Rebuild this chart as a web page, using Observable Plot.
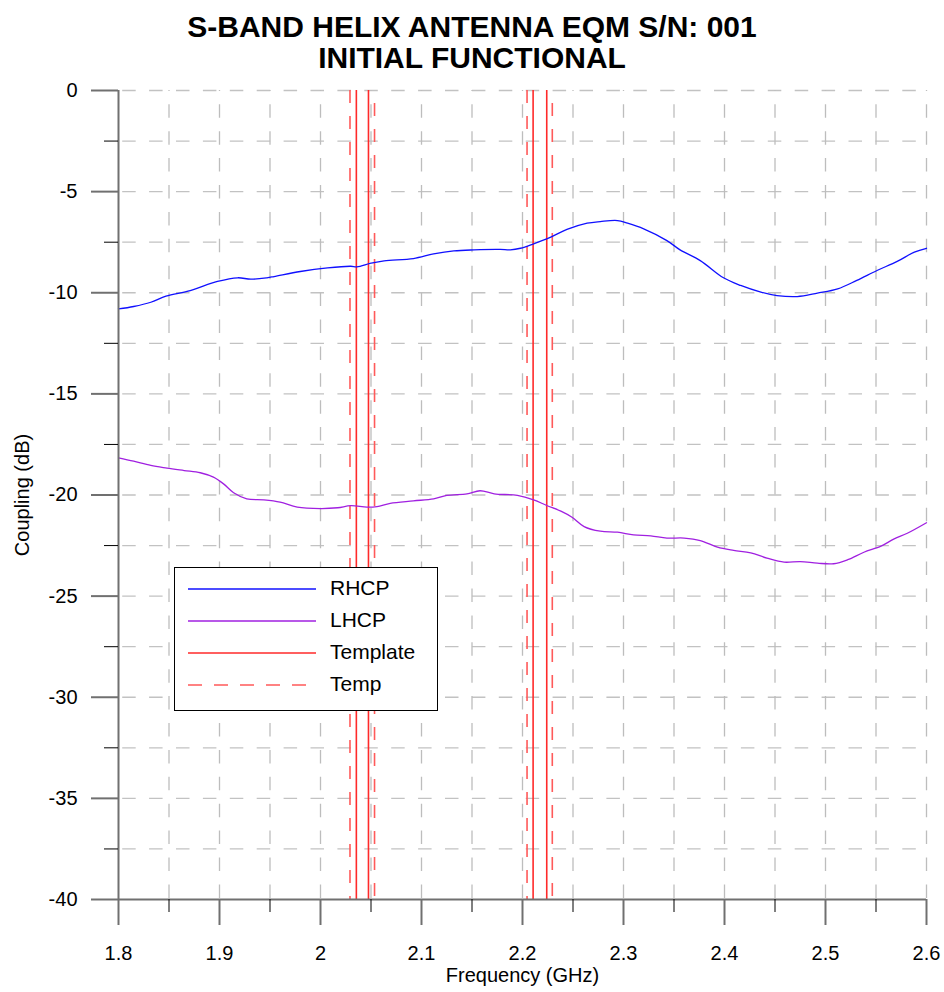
<!DOCTYPE html>
<html>
<head>
<meta charset="utf-8">
<script src="https://cdn.jsdelivr.net/npm/d3@7"></script>
<script src="https://cdn.jsdelivr.net/npm/@observablehq/plot@0.6"></script>
<style>
  html, body { margin: 0; padding: 0; background: #fff; }
  #wrap { position: relative; width: 944px; height: 992px; font-family: "Liberation Sans", Arial, sans-serif; }
  #title { position: absolute; left: 0; top: 11px; width: 944px; text-align: center; font-weight: bold; font-size: 30px; line-height: 31px; color: #000; }
  #chart { position: absolute; left: 0; top: 0; }
  #legend { position: absolute; left: 174px; top: 567px; width: 262px; height: 142px; border: 1px solid #000; background: #fff; }
  .row { position: absolute; left: 0; height: 32px; width: 262px; }
  .row svg { position: absolute; left: 13px; top: 0; }
  .row span { position: absolute; left: 155px; top: 3px; font-size: 21px; line-height: 24px; color: #000; }
</style>
</head>
<body>
<div id="wrap">
  <div id="chart"></div>
  <div id="title">S-BAND HELIX ANTENNA EQM S/N: 001<br>INITIAL FUNCTIONAL</div>
  <div id="legend"></div>
</div>
<script>
// ---- data ----
const rhcpFreq = [1.800,1.815,1.832,1.847,1.871,1.898,1.918,1.931,1.947,1.954,1.980,2.007,2.030,2.036,2.050,2.063,2.092,2.112,2.132,2.152,2.178,2.188,2.198,2.211,2.228,2.244,2.264,2.277,2.294,2.304,2.320,2.343,2.356,2.376,2.399,2.416,2.436,2.452,2.472,2.492,2.512,2.531,2.551,2.571,2.588,2.600];
const rhcpDb   = [-10.80,-10.68,-10.47,-10.17,-9.89,-9.44,-9.26,-9.33,-9.26,-9.20,-8.95,-8.77,-8.69,-8.72,-8.54,-8.42,-8.31,-8.08,-7.93,-7.88,-7.86,-7.88,-7.80,-7.58,-7.25,-6.87,-6.56,-6.48,-6.43,-6.56,-6.84,-7.42,-7.88,-8.41,-9.26,-9.64,-9.97,-10.14,-10.19,-10.02,-9.81,-9.39,-8.90,-8.45,-7.99,-7.80];

const lhcpFreq = [1.800,1.815,1.832,1.848,1.865,1.881,1.894,1.904,1.914,1.927,1.944,1.960,1.977,2.000,2.017,2.030,2.046,2.056,2.069,2.092,2.112,2.125,2.145,2.158,2.172,2.195,2.211,2.224,2.238,2.249,2.261,2.277,2.294,2.310,2.327,2.343,2.360,2.376,2.393,2.409,2.426,2.442,2.459,2.475,2.492,2.508,2.522,2.538,2.555,2.568,2.581,2.600];
const lhcpDb   = [-18.16,-18.33,-18.54,-18.67,-18.79,-18.90,-19.12,-19.45,-19.89,-20.19,-20.24,-20.35,-20.60,-20.67,-20.63,-20.53,-20.60,-20.57,-20.41,-20.29,-20.19,-20.02,-19.94,-19.79,-19.94,-20.02,-20.24,-20.52,-20.80,-21.10,-21.56,-21.79,-21.84,-21.97,-22.02,-22.13,-22.13,-22.25,-22.58,-22.74,-22.86,-23.12,-23.32,-23.29,-23.37,-23.40,-23.20,-22.83,-22.53,-22.17,-21.89,-21.37];

const templateFreq = [2.0355, 2.0475, 2.2105, 2.2240];
const tempFreq     = [2.0292, 2.0535, 2.2045, 2.2295];

const xMajor = [1.8, 1.9, 2.0, 2.1, 2.2, 2.3, 2.4, 2.5, 2.6];
const xMinor = [1.85, 1.95, 2.05, 2.15, 2.25, 2.35, 2.45, 2.55];
const yMajor = [-40, -35, -30, -25, -20, -15, -10, -5, 0];
const yMinor = [-37.5, -32.5, -27.5, -22.5, -17.5, -12.5, -7.5, -2.5];

const seriesNames  = ["RHCP", "LHCP", "Template", "Temp"];
const seriesColors = ["#1010ff", "#a020e0", "#ff2a2a", "#ff5a5a"];

// ---- build ----
const rhcp = rhcpFreq.map((f, i) => ({f, db: rhcpDb[i]}));
const lhcp = lhcpFreq.map((f, i) => ({f, db: lhcpDb[i]}));
const tempLow = tempFreq.filter((d, i) => i % 2 === 0);
const tempHigh = tempFreq.filter((d, i) => i % 2 === 1);
const xGrid = [...xMajor, ...xMinor].sort((a, b) => a - b).filter(d => d !== xMajor[0]);
const yGrid = [...yMajor, ...yMinor].sort((a, b) => a - b).filter(d => d !== yMajor[0]);

const chart = Plot.plot({
  width: 944,
  height: 992,
  marginTop: 90,
  marginBottom: 93,
  marginLeft: 118,
  marginRight: 18,
  style: {fontFamily: "'Liberation Sans', Arial, sans-serif", fontSize: "20px", background: "transparent", overflow: "visible", color: "#000"},
  x: {domain: [xMajor[0], xMajor[xMajor.length - 1]]},
  y: {domain: [yMajor[0], yMajor[yMajor.length - 1]]},
  marks: [
    Plot.gridY(yGrid, {stroke: "#c2c2c2", strokeOpacity: 1, strokeWidth: 1.3, strokeDasharray: "13.5,13.4", strokeDashoffset: 22.7}),
    Plot.gridX(xGrid, {stroke: "#bdbdbd", strokeOpacity: 1, strokeWidth: 1.3, strokeDasharray: "13.5,13.4", strokeDashoffset: 12.6}),
    Plot.ruleX(templateFreq, {stroke: seriesColors[2], strokeWidth: 1.6}),
    Plot.ruleX(tempLow, {stroke: seriesColors[3], strokeWidth: 1.6, strokeDasharray: "13,13"}),
    Plot.ruleX(tempHigh, {stroke: seriesColors[3], strokeWidth: 1.6, strokeDasharray: "13,13", strokeDashoffset: 13}),
    Plot.line(rhcp, {x: "f", y: "db", stroke: seriesColors[0], strokeWidth: 1.3, curve: "catmull-rom"}),
    Plot.line(lhcp, {x: "f", y: "db", stroke: seriesColors[1], strokeWidth: 1.3, curve: "catmull-rom"}),
    Plot.ruleX([xMajor[0]], {stroke: "#707070", strokeWidth: 2}),
    Plot.ruleY([yMajor[0]], {stroke: "#707070", strokeWidth: 2}),
    Plot.axisX(xMinor, {tickSize: 13, stroke: "#000", strokeWidth: 1, tickFormat: () => "", label: null}),
    Plot.axisY(yMinor, {tickSize: 14, stroke: "#000", strokeWidth: 1, tickFormat: () => "", label: null}),
    Plot.axisX(xMajor, {tickSize: 26, tickPadding: 20, stroke: "#707070", strokeWidth: 2, fill: "#000", fontSize: 20,
      tickFormat: d => String(d), label: "Frequency (GHz)", labelAnchor: "center", labelOffset: 82, labelArrow: "none"}),
    Plot.axisY(yMajor, {tickSize: 27, tickPadding: 14, stroke: "#707070", strokeWidth: 2, fill: "#000", fontSize: 20,
      tickFormat: d => String(d), label: "Coupling (dB)", labelAnchor: "center", labelOffset: 104, labelArrow: "none"})
  ]
});
document.getElementById("chart").appendChild(chart);

// ---- legend ----
const legend = document.getElementById("legend");
seriesNames.forEach((name, i) => {
  const row = document.createElement("div");
  row.className = "row";
  row.style.top = (5 + i * 32) + "px";
  const dash = name === "Temp" ? ' stroke-dasharray="14,12"' : "";
  row.innerHTML = `<svg width="130" height="32"><line x1="0" x2="128" y1="16" y2="16" stroke="${seriesColors[i]}" stroke-width="1.6"${dash}/></svg><span>${name}</span>`;
  legend.appendChild(row);
});
</script>
</body>
</html>
